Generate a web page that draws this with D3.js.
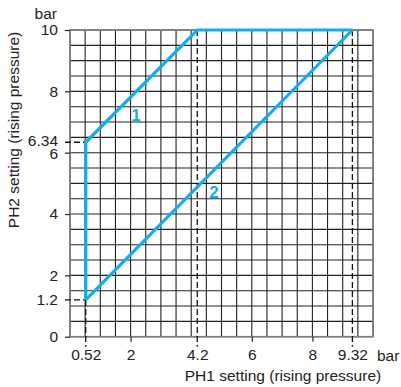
<!DOCTYPE html>
<html>
<head>
<meta charset="utf-8">
<script src="https://cdn.jsdelivr.net/npm/d3@7"></script>
<style>
  body { margin: 0; background: #fff; }
  svg, svg text { font-family: "Liberation Sans", Arial, sans-serif; }
</style>
</head>
<body>
<div id="chart"></div>
<script>
// values (bar)
const curve1 = [[0.52, 1.2], [0.52, 6.34], [4.2, 10], [9.32, 10]];
const curve2 = [[0.52, 1.2], [9.32, 10]];
const xTicks = [0.52, 2, 4.2, 6, 8, 9.32];
const yTicks = [0, 1.2, 2, 4, 6, 6.34, 8, 10];
const xGuides = [[0.52, 1.2], [4.2, 10], [9.32, 10]];   // dashed down to axis
const yGuides = [[6.34, 0.52], [1.2, 0.52]];            // dashed left to axis
const curveLabels = [{ text: "1", x: 2.18, y: 7.23 }, { text: "2", x: 4.75, y: 4.72 }];

const width = 401, height = 387;
const blue = "#13aee9";
const fs = 15.5;

const svg = d3.select("#chart").append("svg")
    .attr("width", width)
    .attr("height", height);

const x = d3.scaleLinear().domain([0, 10]).range([70, 373]);
const y = d3.scaleLinear().domain([0, 10]).range([336.7, 30]);

// grid every 0.5 bar
const grid = d3.range(0, 10.01, 0.5);
svg.append("g")
    .selectAll("line.v")
    .data(grid)
    .enter()
    .append("line")
    .attr("x1", d => x(d)).attr("x2", d => x(d))
    .attr("y1", y(0)).attr("y2", y(10))
    .attr("stroke", "#222")
    .attr("stroke-width", 1.1);

svg.append("g")
    .selectAll("line.h")
    .data(grid)
    .enter()
    .append("line")
    .attr("y1", d => y(d)).attr("y2", d => y(d))
    .attr("x1", x(0)).attr("x2", x(10))
    .attr("stroke", "#222")
    .attr("stroke-width", 1.1);

// frame
svg.append("rect")
    .attr("x", x(0)).attr("y", y(10))
    .attr("width", x(10) - x(0)).attr("height", y(0) - y(10))
    .attr("fill", "none")
    .attr("stroke", "#808080")
    .attr("stroke-width", 1.6);

// axes
const xAxis = svg.append("g")
    .attr("transform", `translate(0,${y(0)})`)
    .call(d3.axisBottom(x).tickValues(xTicks).tickFormat(String).tickSize(5).tickPadding(7));
const yAxis = svg.append("g")
    .attr("transform", `translate(${x(0)},0)`)
    .call(d3.axisLeft(y).tickValues(yTicks).tickFormat(String).tickSize(5).tickPadding(7));

[xAxis, yAxis].forEach(a => {
    a.attr("font-family", "Liberation Sans, Arial, sans-serif").attr("font-size", fs);
    a.select(".domain").remove();
    a.selectAll(".tick line").attr("stroke", "#222").attr("stroke-width", 1.2);
    a.selectAll(".tick text").attr("fill", "#222");
});
// guide values get dashed lines instead of ticks
xAxis.selectAll(".tick").filter(d => xGuides.some(g => g[0] === d)).select("line").remove();
yAxis.selectAll(".tick").filter(d => yGuides.some(g => g[0] === d)).select("line").remove();
// 6.34 sits right on top of 6, lift it a touch
yAxis.selectAll(".tick").filter(d => d === 6.34).select("text").attr("y", -1.5);
yAxis.selectAll(".tick").filter(d => d === 6).select("text").attr("y", 1);

// dashed guides
svg.append("g")
    .selectAll("line")
    .data(xGuides)
    .enter()
    .append("line")
    .attr("x1", d => x(d[0])).attr("x2", d => x(d[0]))
    .attr("y1", d => y(d[1])).attr("y2", y(0) + 10)
    .attr("stroke", "#111")
    .attr("stroke-width", 1.3)
    .attr("stroke-dasharray", "6,3");

svg.append("g")
    .selectAll("line")
    .data(yGuides)
    .enter()
    .append("line")
    .attr("y1", d => y(d[0])).attr("y2", d => y(d[0]))
    .attr("x1", x(0) - 5).attr("x2", d => x(d[1]))
    .attr("stroke", "#111")
    .attr("stroke-width", 1.3)
    .attr("stroke-dasharray", "6,3");

// curves
const line = d3.line().x(d => x(d[0])).y(d => y(d[1]));
svg.append("g")
    .selectAll("path")
    .data([curve1, curve2])
    .enter()
    .append("path")
    .attr("d", line)
    .attr("fill", "none")
    .attr("stroke", blue)
    .attr("stroke-width", 3.2)
    .attr("stroke-linejoin", "miter");

svg.append("g")
    .selectAll("text")
    .data(curveLabels)
    .enter()
    .append("text")
    .attr("x", d => x(d.x))
    .attr("y", d => y(d.y))
    .attr("dy", "0.35em")
    .attr("text-anchor", "middle")
    .attr("font-size", 17)
    .attr("font-weight", "bold")
    .attr("fill", blue)
    .text(d => d.text);

// units and titles
svg.append("text")
    .attr("x", 57).attr("y", 19)
    .attr("text-anchor", "end")
    .attr("font-size", fs).attr("fill", "#222")
    .text("bar");
svg.append("text")
    .attr("x", 377).attr("y", y(0) + 24)
    .attr("font-size", fs).attr("fill", "#222")
    .text("bar");
svg.append("text")
    .attr("x", 283).attr("y", 381)
    .attr("text-anchor", "middle")
    .attr("font-size", fs).attr("fill", "#222")
    .text("PH1 setting (rising pressure)");
svg.append("text")
    .attr("transform", "translate(19,130) rotate(-90)")
    .attr("text-anchor", "middle")
    .attr("font-size", fs).attr("fill", "#222")
    .text("PH2 setting (rising pressure)");
</script>
</body>
</html>
